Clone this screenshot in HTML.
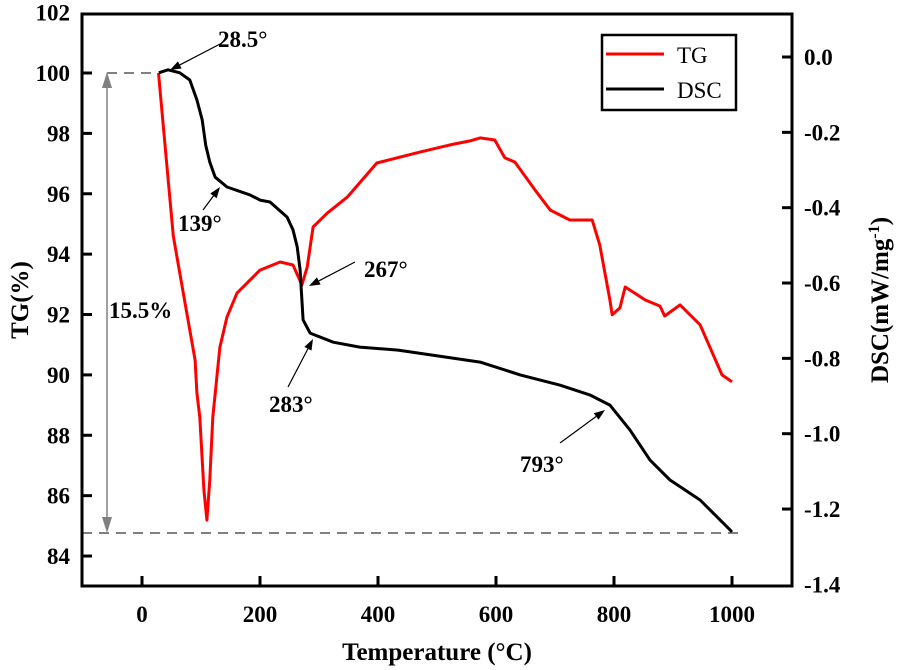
<!DOCTYPE html>
<html><head><meta charset="utf-8"><style>
html,body{margin:0;padding:0;background:#fff;width:900px;height:670px;overflow:hidden}
svg{display:block}
text{font-family:"Liberation Serif",serif;font-weight:bold;fill:#000}
</style></head><body>
<svg id="chart" width="900" height="670"></svg>
<script>
// Data
const tgTemp=[28,40,53,70,90,93,98,105,110,115,120,132,144,161,200,234,256,271,280,290,314,348,398,471,522,556,573,598,615,632,666,692,725,763,776,793,797,810,819,853,878,886,912,946,983,1000];
const tgValues=[100,97.4,94.6,92.71,90.49,89.40,88.6,86.19,85.19,86.52,88.6,90.92,91.92,92.71,93.47,93.74,93.64,92.98,93.57,94.90,95.36,95.89,97.02,97.38,97.62,97.75,97.85,97.78,97.19,97.05,96.13,95.46,95.13,95.13,94.3,92.48,91.99,92.22,92.91,92.48,92.28,91.95,92.32,91.66,90.0,89.77];
const dscTemp=[28.5,44,64,81,93,102,108,115,124,144,183,200,217,246,256,263,268,271,273,285,324,369,434,573,641,708,759,793,827,861,895,946,997,1000];
const dscValues=[-0.042,-0.034,-0.042,-0.061,-0.114,-0.167,-0.234,-0.279,-0.319,-0.345,-0.366,-0.380,-0.385,-0.425,-0.459,-0.504,-0.565,-0.645,-0.698,-0.733,-0.757,-0.770,-0.778,-0.810,-0.844,-0.871,-0.897,-0.924,-0.990,-1.070,-1.123,-1.176,-1.256,-1.261];
const xTicks=[0,200,400,600,800,1000];
const yLeftTicks=[84,86,88,90,92,94,96,98,100,102];
const yRightTicks=[0.0,-0.2,-0.4,-0.6,-0.8,-1.0,-1.2,-1.4];

const L=82,R=792,T=14,B=586;
const sx=v=>142+v*0.59;
const sy=v=>73+(100-v)*30.19;
const sy2=v=>57-v*376.7;
const NS='http://www.w3.org/2000/svg';
const svg=document.getElementById('chart');
function mk(tag,attrs,parent){const e=document.createElementNS(NS,tag);for(const k in attrs)e.setAttribute(k,attrs[k]);(parent||svg).appendChild(e);return e;}

const dl1=mk('line',{x1:107,y1:73,x2:158,y2:73,stroke:'#808080','stroke-width':2,'stroke-dasharray':'10,7'});


const dl2=mk('line',{x1:82,y1:533,x2:740,y2:533,stroke:'#808080','stroke-width':2,'stroke-dasharray':'10,7'});


const va=mk('g',{});


mk('line',{x1:107,y1:85,x2:107,y2:521,stroke:'#808080','stroke-width':1.5},va);
mk('polygon',{points:'107,72 102,88 112,88',fill:'#808080'},va);
mk('polygon',{points:'107,533 102,517 112,517',fill:'#808080'},va);

function path(xs,ys,fy){return xs.map((t,i)=>(i?'L':'M')+sx(t).toFixed(1)+','+fy(ys[i]).toFixed(1)).join(' ');}
const tg=mk('path',{d:path(tgTemp,tgValues,sy),fill:'none',stroke:'#ff0000','stroke-width':3,'stroke-linejoin':'round'});


const dsc=mk('path',{d:path(dscTemp,dscValues,sy2),fill:'none',stroke:'#000','stroke-width':3,'stroke-linejoin':'round'});



const fr=mk('rect',{x:L,y:T,width:R-L,height:B-T,fill:'none',stroke:'#000','stroke-width':3});



xTicks.forEach(v=>{
  const x=sx(v);
  const tk=mk('line',{x1:x,y1:B,x2:x,y2:B-10,stroke:'#000','stroke-width':3});
  
  
  const t=mk('text',{x:x,y:B+36,'text-anchor':'middle','font-size':23});
  t.textContent=v;
  
  
});
yLeftTicks.forEach(v=>{
  const y=sy(v);
  if(y>T+2){const tk=mk('line',{x1:L,y1:y,x2:L+10,y2:y,stroke:'#000','stroke-width':3});
  
  }
  const t=mk('text',{x:L-12,y:y+8,'text-anchor':'end','font-size':23});
  t.textContent=v;
  
  
});
yRightTicks.forEach(v=>{
  const y=sy2(v);
  if(y<B-2){const tk=mk('line',{x1:R,y1:y,x2:R-10,y2:y,stroke:'#000','stroke-width':3});
  
  }
  const t=mk('text',{x:R+12,y:y+8,'text-anchor':'start','font-size':23});
  t.textContent=v.toFixed(1);
  
  
});

const xt=mk('text',{x:437,y:660,'text-anchor':'middle','font-size':25});
xt.textContent='Temperature (°C)';


const yt=mk('text',{x:0,y:0,'text-anchor':'middle','font-size':25,transform:'translate(28,300) rotate(-90)'});
yt.textContent='TG(%)';


const yt2=mk('text',{x:0,y:0,'text-anchor':'middle','font-size':25,transform:'translate(888,300) rotate(-90)'});
yt2.innerHTML='DSC(mW/mg<tspan dy="-9" font-size="16">-1</tspan><tspan dy="9">)</tspan>';



function ann(name,label,tx,ty,x1,y1,x2,y2){
  const g=mk('g',{});
  
  
  const t=mk('text',{x:tx,y:ty,'font-size':23},g);t.textContent=label;
  const ang=Math.atan2(y2-y1,x2-x1),l=11,w=4;
  const bx=x2-l*Math.cos(ang),by=y2-l*Math.sin(ang);
  mk('line',{x1:x1,y1:y1,x2:bx,y2:by,stroke:'#000','stroke-width':1.2},g);
  mk('polygon',{points:`${x2},${y2} ${bx-w*Math.sin(ang)},${by+w*Math.cos(ang)} ${bx+w*Math.sin(ang)},${by-w*Math.cos(ang)}`,fill:'#000'},g);
}
ann('annotation-28-5','28.5°',218,47,222,43,170,70);
ann('annotation-139','139°',178,231,203,210,220,187);
ann('annotation-267','267°',364,277,355,262,309,286);
ann('annotation-283','283°',269,412,288,387,313,339);
ann('annotation-793','793°',520,472,560,443,605,410);
const pct=mk('text',{x:109,y:318,'font-size':23});
pct.textContent='15.5%';



const lg=mk('g',{});


mk('rect',{x:602,y:35,width:134,height:75,fill:'#fff',stroke:'#000','stroke-width':2.5},lg);
mk('line',{x1:606,y1:54,x2:664,y2:54,stroke:'#ff0000','stroke-width':3},lg);
mk('line',{x1:606,y1:89,x2:664,y2:89,stroke:'#000','stroke-width':3},lg);
const l1=mk('text',{x:677,y:63,'font-size':23,style:'font-weight:normal'},lg);l1.textContent='TG';


const l2=mk('text',{x:677,y:98,'font-size':23,style:'font-weight:normal'},lg);l2.textContent='DSC';


</script>
</body></html>
